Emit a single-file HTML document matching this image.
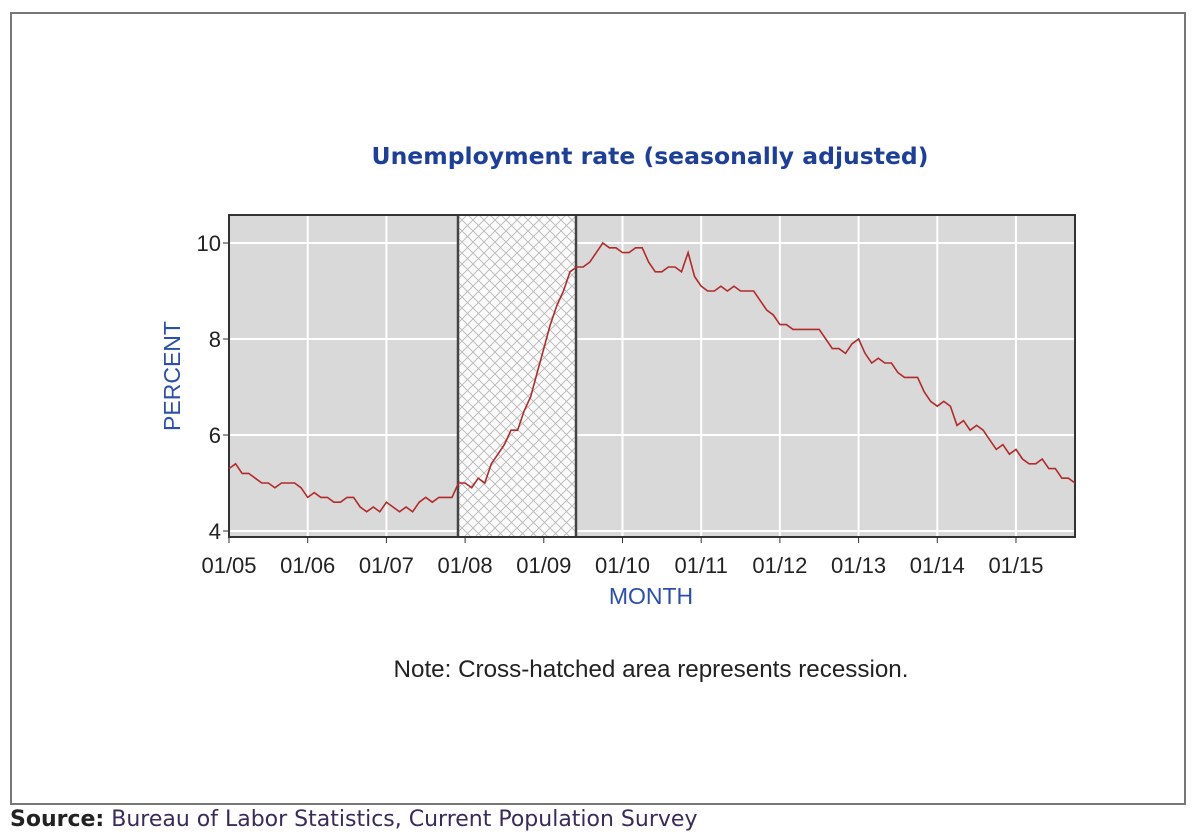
<!DOCTYPE html>
<html><head><meta charset="utf-8"><style>
body{margin:0;background:#fff;width:1200px;height:835px;overflow:hidden;font-family:"Liberation Sans",sans-serif}
#frame{position:absolute;left:10px;top:12px;width:1176px;height:793px;border:2px solid #777;box-sizing:border-box}
#src{position:absolute;left:10px;top:807px;font-family:"DejaVu Sans",sans-serif;font-size:22px;color:#3a2a5a;white-space:nowrap}
</style></head><body>
<div id="frame"></div>
<svg width="1200" height="835" style="position:absolute;left:0;top:0">
<defs><pattern id="h" width="11" height="11" patternUnits="userSpaceOnUse">
<rect width="11" height="11" fill="#fbfbfb"/>
<path d="M0 0L11 11M11 0L0 11" stroke="#b8b8b8" stroke-width="0.9"/></pattern></defs>
<text x="650" y="164" text-anchor="middle" font-family="DejaVu Sans,sans-serif" font-size="23.5" font-weight="bold" fill="#1c3f9c">Unemployment rate (seasonally adjusted)</text>
<rect x="229" y="215" width="846" height="322" fill="#d9d9d9"/>
<g id="grid" stroke="#fff" stroke-width="2"></g>
<rect x="458" y="215" width="118" height="322" fill="url(#h)"/>
<line x1="458" y1="215" x2="458" y2="537" stroke="#444" stroke-width="2.5"/>
<line x1="576" y1="215" x2="576" y2="537" stroke="#444" stroke-width="2.5"/>
<rect x="229" y="215" width="846" height="322" fill="none" stroke="#333" stroke-width="2"/>
<polyline id="ln" fill="none" stroke="#b22a2a" stroke-width="1.6"/>
<g id="ax" font-size="22" fill="#222"></g>
<text transform="translate(180,376) rotate(-90)" text-anchor="middle" font-size="23" fill="#2a4fb0">PERCENT</text>
<text x="651" y="604" text-anchor="middle" font-size="23" fill="#2a4fb0">MONTH</text>
<text x="651" y="677" text-anchor="middle" font-size="24.2" fill="#222">Note: Cross-hatched area represents recession.</text>
</svg>
<div id="src"><b style="color:#222">Source:</b> Bureau of Labor Statistics, Current Population Survey</div>
<script>
var d=[5.3,5.4,5.2,5.2,5.1,5.0,5.0,4.9,5.0,5.0,5.0,4.9,4.7,4.8,4.7,4.7,4.6,4.6,4.7,4.7,4.5,4.4,4.5,4.4,4.6,4.5,4.4,4.5,4.4,4.6,4.7,4.6,4.7,4.7,4.7,5.0,5.0,4.9,5.1,5.0,5.4,5.6,5.8,6.1,6.1,6.5,6.8,7.3,7.8,8.3,8.7,9.0,9.4,9.5,9.5,9.6,9.8,10.0,9.9,9.9,9.8,9.8,9.9,9.9,9.6,9.4,9.4,9.5,9.5,9.4,9.8,9.3,9.1,9.0,9.0,9.1,9.0,9.1,9.0,9.0,9.0,8.8,8.6,8.5,8.3,8.3,8.2,8.2,8.2,8.2,8.2,8.0,7.8,7.8,7.7,7.9,8.0,7.7,7.5,7.6,7.5,7.5,7.3,7.2,7.2,7.2,6.9,6.7,6.6,6.7,6.6,6.2,6.3,6.1,6.2,6.1,5.9,5.7,5.8,5.6,5.7,5.5,5.4,5.4,5.5,5.3,5.3,5.1,5.1,5.0];
var X=function(m){return 229+m*846/129},Y=function(v){return 531-(v-4)*48};
document.getElementById('ln').setAttribute('points',d.map(function(v,i){return X(i).toFixed(1)+','+Y(v).toFixed(1)}).join(' '));
var g='',a='';
for(var y=0;y<11;y++){var x=X(y*12);if(y>0)g+='<line x1="'+x+'" y1="215" x2="'+x+'" y2="537"/>';
a+='<line x1="'+x+'" y1="537" x2="'+x+'" y2="543" stroke="#333"/><text x="'+x+'" y="573" text-anchor="middle">01/'+(y+5<10?'0':'')+(y+5)+'</text>';}
for(var v=4;v<=10;v+=2){var yy=Y(v);g+='<line x1="229" y1="'+yy+'" x2="1075" y2="'+yy+'"/>';
a+='<line x1="223" y1="'+yy+'" x2="229" y2="'+yy+'" stroke="#333"/><text x="221" y="'+(yy+8)+'" text-anchor="end">'+v+'</text>';}
document.getElementById('grid').innerHTML=g;document.getElementById('ax').innerHTML=a;
</script>
</body></html>
